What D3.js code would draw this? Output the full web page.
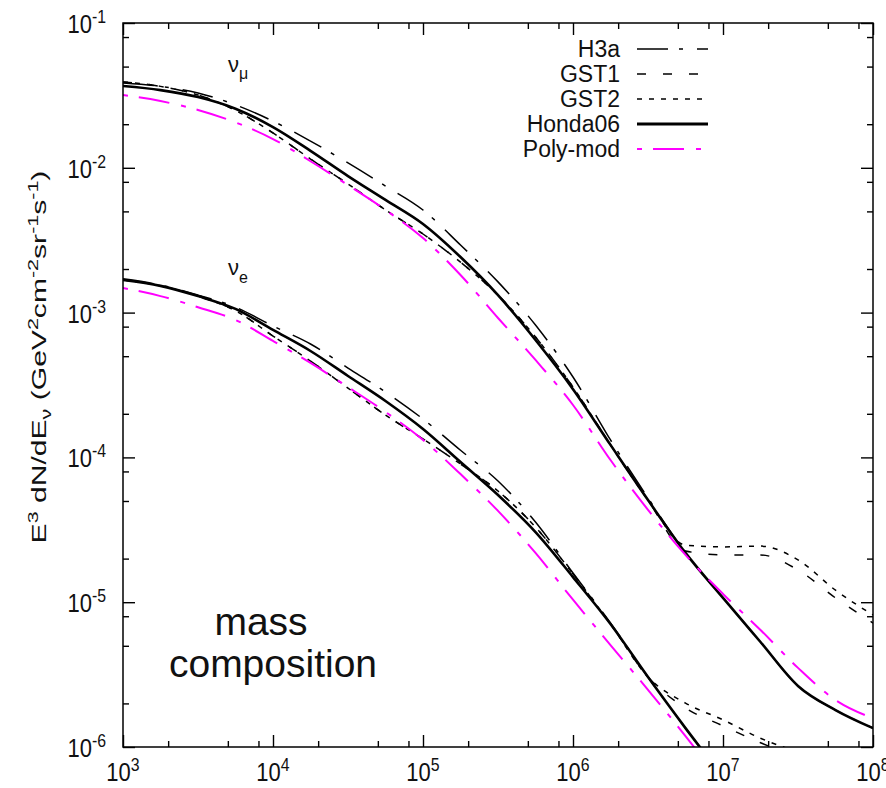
<!DOCTYPE html>
<html>
<head>
<meta charset="utf-8">
<script src="https://cdn.jsdelivr.net/npm/d3@7/dist/d3.min.js"></script>
<style>
body { margin: 0; background: #fff; }
text { font-family: "Liberation Sans", Arial, sans-serif; fill: #111; }
</style>
</head>
<body>
<div id="chart"></div>
<script>
// log10 of neutrino energy (GeV)
var lgE = [3, 3.25, 3.5, 3.75, 4, 4.25, 4.5, 4.75, 5, 5.25, 5.5, 5.75, 6, 6.25, 6.5, 6.75, 7, 7.25, 7.5, 7.75, 8];

// nu_mu fluxes, E^3 dN/dE
var numuH3a   = [3.85e-2, 3.65e-2, 3.29e-2, 2.72e-2, 2.10e-2, 1.53e-2, 1.08e-2, 7.48e-3, 5.11e-3, 2.93e-3, 1.63e-3, 8.20e-4, 3.59e-4, 1.32e-4, 5.25e-5, 2.19e-5, 1.07e-5, 5.31e-6, 2.64e-6, 1.80e-6, 1.35e-6];
var numuGST1  = [3.92e-2, 3.65e-2, 3.18e-2, 2.49e-2, 1.74e-2, 1.15e-2, 7.73e-3, 5.12e-3, 3.49e-3, 2.23e-3, 1.32e-3, 6.79e-4, 3.06e-4, 1.22e-4, 5.08e-5, 2.26e-5, 2.12e-5, 2.12e-5, 1.67e-5, 1.07e-5, 7.18e-6];
var numuGST2  = [3.92e-2, 3.65e-2, 3.18e-2, 2.49e-2, 1.74e-2, 1.15e-2, 7.73e-3, 5.12e-3, 3.49e-3, 2.23e-3, 1.32e-3, 6.79e-4, 3.06e-4, 1.22e-4, 5.08e-5, 2.48e-5, 2.41e-5, 2.44e-5, 1.96e-5, 1.21e-5, 8.16e-6];
var numuHonda = [3.67e-2, 3.44e-2, 3.08e-2, 2.56e-2, 1.91e-2, 1.31e-2, 8.77e-3, 6.00e-3, 4.09e-3, 2.42e-3, 1.32e-3, 6.47e-4, 2.96e-4, 1.22e-4, 5.08e-5, 2.19e-5, 1.07e-5, 5.31e-6, 2.64e-6, 1.80e-6, 1.35e-6];
var numuPoly  = [3.18e-2, 2.89e-2, 2.51e-2, 2.06e-2, 1.58e-2, 1.11e-2, 7.60e-3, 5.12e-3, 3.27e-3, 1.82e-3, 9.18e-4, 4.71e-4, 2.30e-4, 9.59e-5, 4.34e-5, 2.12e-5, 1.14e-5, 6.43e-6, 3.52e-6, 2.11e-6, 1.58e-6];

// nu_e fluxes (shorter lists, they run out of the frame)
var nueH3a   = [1.71e-3, 1.55e-3, 1.32e-3, 1.09e-3, 8.08e-4, 6.07e-4, 4.14e-4, 2.83e-4, 1.84e-4, 1.12e-4, 6.87e-5, 3.58e-5, 1.59e-5, 7.18e-6, 3.04e-6, 1.35e-6, 6.21e-7];
var nueGST1  = [1.68e-3, 1.53e-3, 1.30e-3, 1.03e-3, 6.89e-4, 4.63e-4, 3.01e-4, 1.96e-4, 1.34e-4, 9.00e-5, 5.86e-5, 3.30e-5, 1.57e-5, 7.07e-6, 3.04e-6, 1.86e-6, 1.40e-6, 1.07e-6, 8.53e-7];
var nueGST2  = [1.68e-3, 1.53e-3, 1.30e-3, 1.03e-3, 6.89e-4, 4.63e-4, 3.01e-4, 1.96e-4, 1.34e-4, 9.00e-5, 5.86e-5, 3.30e-5, 1.57e-5, 7.07e-6, 3.04e-6, 2.01e-6, 1.54e-6, 1.15e-6, 9.23e-7];
var nueHonda = [1.68e-3, 1.53e-3, 1.30e-3, 1.06e-3, 7.59e-4, 5.43e-4, 3.65e-4, 2.45e-4, 1.57e-4, 9.29e-5, 5.50e-5, 3.05e-5, 1.49e-5, 7.07e-6, 3.04e-6, 1.35e-6, 6.21e-7];
var nuePoly  = [1.48e-3, 1.30e-3, 1.09e-3, 8.89e-4, 6.37e-4, 4.49e-4, 3.06e-4, 2.06e-4, 1.32e-4, 7.67e-5, 4.27e-5, 2.19e-5, 1.04e-5, 5.06e-6, 2.48e-6, 1.19e-6, 5.47e-7];

var xExps = [3, 4, 5, 6, 7, 8];
var yExps = [-1, -2, -3, -4, -5, -6];
var models = ["H3a", "GST1", "GST2", "Honda06", "Poly-mod"];

// line styles per model
var styles = {
    "H3a":      { color: "#000", width: 1.5, dash: "31,11,4,14" },
    "GST1":     { color: "#000", width: 1.5, dash: "9,17" },
    "GST2":     { color: "#000", width: 1.5, dash: "5,7" },
    "Honda06":  { color: "#000", width: 2.6, dash: null },
    "Poly-mod": { color: "#ff00ff", width: 2, dash: "5,11,31,12" }
};

var series = [
    { model: "H3a", vals: numuH3a }, { model: "H3a", vals: nueH3a },
    { model: "GST1", vals: numuGST1 }, { model: "GST1", vals: nueGST1 },
    { model: "GST2", vals: numuGST2 }, { model: "GST2", vals: nueGST2 },
    { model: "Honda06", vals: numuHonda }, { model: "Honda06", vals: nueHonda },
    { model: "Poly-mod", vals: numuPoly }, { model: "Poly-mod", vals: nuePoly }
];

var W = 886, H = 788;
var margin = { top: 23, right: 13, bottom: 41, left: 123 };
var width = W - margin.left - margin.right;
var height = H - margin.top - margin.bottom;

var svg = d3.select("#chart").append("svg")
    .attr("width", W)
    .attr("height", H);

var g = svg.append("g")
    .attr("transform", `translate(${margin.left}, ${margin.top})`);

var x = d3.scaleLog().domain([1e3, 1e8]).range([0, width]);
var y = d3.scaleLog().domain([1e-6, 1e-1]).range([height, 0]);

// write text with super/subscripts: parts = [text, shift, size]
function rich(sel, parts) {
    var cur = 0;
    parts.forEach(function(p) {
        sel.append("tspan")
            .attr("dy", p[1] - cur)
            .attr("font-size", p[2])
            .text(p[0]);
        cur = p[1];
    });
}

// clip for curves
svg.append("defs").append("clipPath").attr("id", "plotclip")
    .append("rect").attr("width", width).attr("height", height);

// curves
var line = d3.line()
    .x((d, i) => x(Math.pow(10, lgE[i])))
    .y(d => y(d))
    .curve(d3.curveMonotoneX);

g.append("g").attr("clip-path", "url(#plotclip)")
    .selectAll("path")
    .data(series)
    .enter()
    .append("path")
    .attr("d", d => line(d.vals))
    .attr("fill", "none")
    .attr("stroke", d => styles[d.model].color)
    .attr("stroke-width", d => styles[d.model].width)
    .attr("stroke-dasharray", d => styles[d.model].dash)
    .attr("stroke-linejoin", "round");

// ticks on all four sides, pointing inward
var xMinor = [], yMinor = [];
for (var e = 3; e < 8; e++) [2, 5, 8].forEach(m => xMinor.push(m * Math.pow(10, e)));
for (var e = -6; e < -1; e++) [2, 5, 8].forEach(m => yMinor.push(m * Math.pow(10, e)));
var xMajor = xExps.map(e => Math.pow(10, e));
var yMajor = yExps.map(e => Math.pow(10, e));

function tickAxis(axisFn, scale, vals, size, tr) {
    var a = g.append("g")
        .attr("transform", tr)
        .call(axisFn(scale).tickValues(vals).tickSize(size).tickFormat(""));
    a.select(".domain").remove();
    a.selectAll("line").attr("stroke", "#000").attr("stroke-width", 1.4);
}
tickAxis(d3.axisBottom, x, xMajor, -12, `translate(0,${height})`);
tickAxis(d3.axisBottom, x, xMinor, -6, `translate(0,${height})`);
tickAxis(d3.axisTop, x, xMajor, -12, "translate(0,0)");
tickAxis(d3.axisTop, x, xMinor, -6, "translate(0,0)");
tickAxis(d3.axisLeft, y, yMajor, -12, "translate(0,0)");
tickAxis(d3.axisLeft, y, yMinor, -6, "translate(0,0)");
tickAxis(d3.axisRight, y, yMajor, -12, `translate(${width},0)`);
tickAxis(d3.axisRight, y, yMinor, -6, `translate(${width},0)`);

// frame
g.append("rect")
    .attr("width", width)
    .attr("height", height)
    .attr("fill", "none")
    .attr("stroke", "#000")
    .attr("stroke-width", 1.5);

// tick labels (glyphs a bit narrow, as in the original)
xExps.forEach(function(e) {
    var t = g.append("text")
        .attr("transform", `translate(${x(Math.pow(10, e))}, ${height + 34}) scale(0.88, 1)`)
        .attr("text-anchor", "middle")
        .attr("font-size", 25);
    rich(t, [["10", 0, 25], [String(e), -10, 18]]);
});
yExps.forEach(function(e) {
    var t = g.append("text")
        .attr("transform", `translate(-17, ${y(Math.pow(10, e)) + 10}) scale(0.88, 1)`)
        .attr("text-anchor", "end")
        .attr("font-size", 25);
    rich(t, [["10", 0, 25], [String(e), -10, 18]]);
});

// y-axis title, stretched along its length to match
var yt = svg.append("text")
    .attr("text-anchor", "middle")
    .attr("font-size", 21);
rich(yt, [["E", 0, 21], ["3", -8, 15], [" dN/dE", 0, 21], ["ν", 5, 15], [" (GeV", 0, 21], ["2", -8, 15],
          ["cm", 0, 21], ["-2", -8, 15], ["sr", 0, 21], ["-1", -8, 15], ["s", 0, 21], ["-1", -8, 15], [")", 0, 21]]);
var ytLen = yt.node().getComputedTextLength();
yt.attr("transform", `translate(46, 357) rotate(-90) scale(${373 / ytLen}, 1)`);

// flavour labels
var lm = svg.append("text").attr("x", 228).attr("y", 72).attr("font-size", 22);
rich(lm, [["ν", 0, 22], ["μ", 7, 16]]);
var le = svg.append("text").attr("x", 228).attr("y", 275).attr("font-size", 22);
rich(le, [["ν", 0, 22], ["e", 8, 16]]);

// annotation
svg.append("text").attr("x", 261).attr("y", 635).attr("text-anchor", "middle")
    .attr("font-size", 39).text("mass");
svg.append("text").attr("x", 273).attr("y", 677).attr("text-anchor", "middle")
    .attr("font-size", 39).text("composition");

// legend
var legend = svg.append("g").attr("class", "legend");
models.forEach(function(m, i) {
    legend.append("text")
        .attr("x", 620)
        .attr("y", 57 + 25 * i)
        .attr("text-anchor", "end")
        .attr("font-size", 23)
        .text(m);
    legend.append("line")
        .attr("x1", 637).attr("x2", 708)
        .attr("y1", 49 + 25 * i).attr("y2", 49 + 25 * i)
        .attr("stroke", styles[m].color)
        .attr("stroke-width", m === "Honda06" ? 3 : styles[m].width)
        .attr("stroke-dasharray", styles[m].dash);
});
</script>
</body>
</html>
